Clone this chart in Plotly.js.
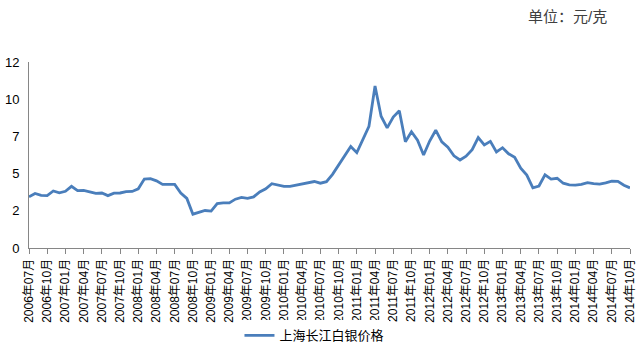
<!DOCTYPE html>
<html>
<head>
<meta charset="utf-8">
<script src="https://cdn.plot.ly/plotly-3.0.1.min.js"></script>
<style>html,body{margin:0;padding:0;background:#fff;}#chart{width:640px;height:360px;}</style>
</head>
<body>
<div id="chart"></div>
<script>
const months = [
"2006年07月","2006年08月","2006年09月","2006年10月","2006年11月","2006年12月",
"2007年01月","2007年02月","2007年03月","2007年04月","2007年05月","2007年06月",
"2007年07月","2007年08月","2007年09月","2007年10月","2007年11月","2007年12月",
"2008年01月","2008年02月","2008年03月","2008年04月","2008年05月","2008年06月",
"2008年07月","2008年08月","2008年09月","2008年10月","2008年11月","2008年12月",
"2009年01月","2009年02月","2009年03月","2009年04月","2009年05月","2009年06月",
"2009年07月","2009年08月","2009年09月","2009年10月","2009年11月","2009年12月",
"2010年01月","2010年02月","2010年03月","2010年04月","2010年05月","2010年06月",
"2010年07月","2010年08月","2010年09月","2010年10月","2010年11月","2010年12月",
"2011年01月","2011年02月","2011年03月","2011年04月","2011年05月","2011年06月",
"2011年07月","2011年08月","2011年09月","2011年10月","2011年11月","2011年12月",
"2012年01月","2012年02月","2012年03月","2012年04月","2012年05月","2012年06月",
"2012年07月","2012年08月","2012年09月","2012年10月","2012年11月","2012年12月",
"2013年01月","2013年02月","2013年03月","2013年04月","2013年05月","2013年06月",
"2013年07月","2013年08月","2013年09月","2013年10月","2013年11月","2013年12月",
"2014年01月","2014年02月","2014年03月","2014年04月","2014年05月","2014年06月",
"2014年07月","2014年08月","2014年09月","2014年10月"
];
const silverPrice = [
3.30,3.52,3.40,3.38,3.68,3.56,3.66,3.98,3.70,3.71,3.62,3.52,
3.55,3.38,3.54,3.55,3.64,3.65,3.82,4.45,4.47,4.33,4.10,4.08,
4.10,3.55,3.20,2.18,2.32,2.42,2.38,2.87,2.91,2.91,3.15,3.26,
3.20,3.30,3.62,3.82,4.15,4.06,3.97,3.97,4.05,4.17,4.23,4.29,
4.18,4.28,4.75,5.35,6.00,6.55,6.15,7.00,7.85,10.45,8.50,7.75,
8.45,8.85,6.85,7.50,6.95,6.00,6.90,7.60,6.85,6.50,5.95,5.68,
5.92,6.35,7.12,6.65,6.88,6.20,6.47,6.08,5.85,5.15,4.70,3.88,
4.00,4.72,4.45,4.50,4.18,4.07,4.06,4.10,4.22,4.15,4.12,4.20,
4.32,4.30,4.05,3.88
];
const seriesName = "上海长江白银价格";
const unitText = "单位：元/克";
const yTickVals = [0, 2.4, 4.8, 7.2, 9.6, 12];
const yTickText = ["0", "2", "5", "7", "10", "12"];
const xTickLabels = months.filter((m, i) => i % 3 === 0);

const fontFam = "Arial, 'Liberation Sans', 'Noto Sans CJK SC', sans-serif";

Plotly.newPlot("chart", [{
  type: "scatter",
  mode: "lines",
  x: months,
  y: silverPrice,
  name: seriesName,
  line: {color: "#4A7EBB", width: 2.8},
  hoverinfo: "skip"
}], {
  width: 640, height: 360,
  margin: {l: 29, r: 10, t: 62, b: 103},
  paper_bgcolor: "#ffffff",
  plot_bgcolor: "#ffffff",
  font: {family: fontFam, size: 12, color: "#000"},
  showlegend: true,
  legend: {
    orientation: "h",
    x: 0.475, xanchor: "center",
    y: -0.47, yanchor: "middle",
    font: {family: fontFam, size: 13, color: "#000"}
  },
  xaxis: {
    type: "category",
    range: [0, months.length - 1],
    tickmode: "array",
    tickvals: xTickLabels,
    ticktext: xTickLabels,
    tickangle: -90,
    ticks: "outside",
    ticklen: 5,
    tickcolor: "#868686",
    showline: true,
    linecolor: "#868686",
    linewidth: 1,
    showgrid: false,
    zeroline: false,
    tickfont: {family: fontFam, size: 12, color: "#000"}
  },
  yaxis: {
    range: [0, 12],
    tickmode: "array",
    tickvals: yTickVals,
    ticktext: yTickText,
    ticks: "",
    ticklabelstandoff: 6,
    showline: true,
    linecolor: "#868686",
    linewidth: 1,
    showgrid: false,
    zeroline: false,
    tickfont: {family: fontFam, size: 13, color: "#000"}
  },
  annotations: [{
    text: unitText,
    xref: "paper", yref: "paper",
    x: 0.965, xanchor: "right",
    y: 1.246, yanchor: "middle",
    showarrow: false,
    font: {family: fontFam, size: 15, color: "#404040"}
  }]
}, {displayModeBar: false, staticPlot: true});
</script>
</body>
</html>
